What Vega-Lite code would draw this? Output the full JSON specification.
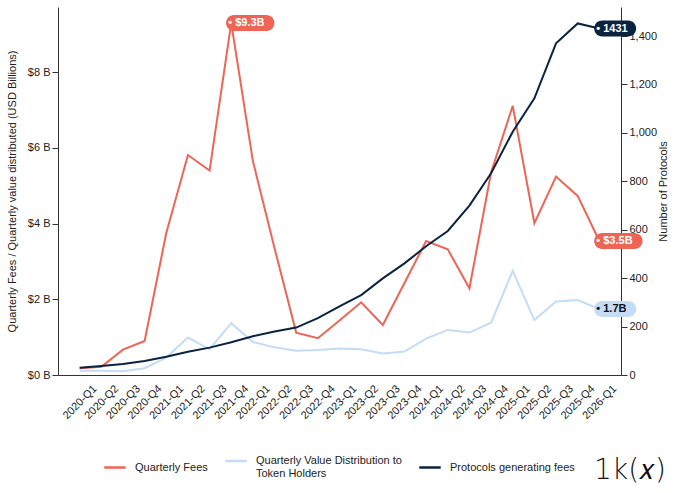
{
  "$schema": "https://vega.github.io/schema/vega-lite/v6.json",
  "width": 563,
  "height": 368,
  "autosize": {"type": "none"},
  "padding": {"left": 58, "top": 7, "right": 59, "bottom": 118},
  "background": "white",
  "title": {
    "text": "1k(𝑥)",
    "orient": "bottom",
    "anchor": "end",
    "frame": "group",
    "dx": 45,
    "offset": -22,
    "fontSize": 28,
    "fontWeight": 300,
    "font": "DejaVu Sans",
    "color": "#111"
  },
  "config": {
    "view": {"stroke": null},
    "font": "Liberation Sans",
    "axis": {
      "grid": false,
      "domainColor": "#333",
      "tickColor": "#333",
      "labelColor": "#222",
      "titleColor": "#222",
      "labelFontSize": 11,
      "titleFontSize": 11,
      "titleFontWeight": "normal"
    },
    "legend": {
      "orient": "none",
      "legendX": 45,
      "legendY": 442,
      "direction": "horizontal",
      "columns": 3,
      "columnPadding": 12,
      "labelFontSize": 11,
      "labelColor": "#222",
      "labelLimit": 300,
      "symbolType": "stroke",
      "symbolStrokeWidth": 2.5,
      "symbolSize": 460,
      "labelOffset": 8
    }
  },
  "data": {
    "values": [
      {"q": "2020-Q1", "fees": 0.18, "dist": 0.11, "protocols": 30},
      {"q": "2020-Q2", "fees": 0.22, "dist": 0.11, "protocols": 37},
      {"q": "2020-Q3", "fees": 0.67, "dist": 0.10, "protocols": 45},
      {"q": "2020-Q4", "fees": 0.90, "dist": 0.18, "protocols": 58},
      {"q": "2021-Q1", "fees": 3.75, "dist": 0.46, "protocols": 75},
      {"q": "2021-Q2", "fees": 5.81, "dist": 0.99, "protocols": 96},
      {"q": "2021-Q3", "fees": 5.40, "dist": 0.68, "protocols": 113},
      {"q": "2021-Q4", "fees": 9.30, "dist": 1.37, "protocols": 135},
      {"q": "2022-Q1", "fees": 5.65, "dist": 0.87, "protocols": 160},
      {"q": "2022-Q2", "fees": 3.35, "dist": 0.73, "protocols": 180},
      {"q": "2022-Q3", "fees": 1.12, "dist": 0.64, "protocols": 196},
      {"q": "2022-Q4", "fees": 0.97, "dist": 0.66, "protocols": 235},
      {"q": "2023-Q1", "fees": 1.44, "dist": 0.70, "protocols": 283},
      {"q": "2023-Q2", "fees": 1.92, "dist": 0.68, "protocols": 330},
      {"q": "2023-Q3", "fees": 1.32, "dist": 0.57, "protocols": 399},
      {"q": "2023-Q4", "fees": 2.43, "dist": 0.62, "protocols": 461},
      {"q": "2024-Q1", "fees": 3.54, "dist": 0.96, "protocols": 532},
      {"q": "2024-Q2", "fees": 3.32, "dist": 1.19, "protocols": 595},
      {"q": "2024-Q3", "fees": 2.29, "dist": 1.12, "protocols": 700},
      {"q": "2024-Q4", "fees": 5.35, "dist": 1.38, "protocols": 833},
      {"q": "2025-Q1", "fees": 7.11, "dist": 2.75, "protocols": 1005},
      {"q": "2025-Q2", "fees": 4.01, "dist": 1.45, "protocols": 1143},
      {"q": "2025-Q3", "fees": 5.24, "dist": 1.94, "protocols": 1370},
      {"q": "2025-Q4", "fees": 4.73, "dist": 1.98, "protocols": 1452},
      {"q": "2026-Q1", "fees": 3.54, "dist": 1.74, "protocols": 1431}
    ]
  },
  "encoding": {
    "x": {
      "field": "q",
      "type": "ordinal",
      "scale": {"type": "point", "padding": 1.15},
      "axis": {
        "title": null,
        "labelAngle": -45,
        "labelAlign": "center",
        "labelBaseline": "middle",
        "ticks": false,
        "labelPadding": 27
      }
    }
  },
  "layer": [
    {
      "transform": [{"fold": ["fees", "dist"], "as": ["series", "value"]}],
      "encoding": {
        "y": {
          "field": "value",
          "type": "quantitative",
          "scale": {"domain": [0, 9.72], "nice": false},
          "axis": {
            "title": "Quarterly Fees / Quarterly value distributed (USD Billions)",
            "values": [0, 2, 4, 6, 8],
            "labelExpr": "'$' + datum.value + ' B'",
            "tickSize": 6,
            "titlePadding": 10
          }
        }
      },
      "layer": [
        {
          "mark": {"type": "line", "strokeWidth": 2},
          "encoding": {
            "color": {
              "field": "series",
              "type": "nominal",
              "scale": {
                "domain": ["fees", "dist", "protocols"],
                "range": ["#ee6455", "#c4dcf6", "#0b2341"]
              },
              "legend": {
                "title": null,
                "labelExpr": "datum.value == 'fees' ? 'Quarterly Fees' : datum.value == 'dist' ? ['Quarterly Value Distribution to', 'Token Holders'] : 'Protocols generating fees'"
              }
            }
          }
        },
        {
          "transform": [
            {"filter": "datum.q == '2026-Q1' || (datum.q == '2021-Q4' && datum.series == 'fees')"}
          ],
          "mark": {"type": "point", "filled": true, "size": 256, "opacity": 1, "strokeWidth": 0},
          "encoding": {
            "shape": {
              "condition": {"test": "datum.series == 'dist'", "value": "M0.35,-1 L3.6,-1 C4.152,-1 4.6,-0.552 4.6,0 C4.6,0.552 4.152,1 3.6,1 L0.35,1 C-0.202,1 -0.65,0.552 -0.65,0 C-0.65,-0.552 -0.202,-1 0.35,-1 Z"},
              "value": "M0.35,-1 L4.4,-1 C4.952,-1 5.4,-0.552 5.4,0 C5.4,0.552 4.952,1 4.4,1 L0.35,1 C-0.202,1 -0.65,0.552 -0.65,0 C-0.65,-0.552 -0.202,-1 0.35,-1 Z"
            },
            "fill": {
              "condition": {"test": "datum.series == 'dist'", "value": "#c4dcf6"},
              "value": "#ee6455"
            }
          }
        },
        {
          "transform": [
            {"filter": "datum.q == '2026-Q1' || (datum.q == '2021-Q4' && datum.series == 'fees')"},
            {"calculate": "'• ' + (datum.series == 'fees' ? '$' : '') + format(datum.value, '.1f') + 'B'", "as": "label"}
          ],
          "mark": {"type": "text", "align": "left", "baseline": "middle", "dx": -3, "fontSize": 11, "fontWeight": "bold"},
          "encoding": {
            "text": {"field": "label"},
            "fill": {
              "condition": {"test": "datum.series == 'dist'", "value": "#111"},
              "value": "white"
            }
          }
        }
      ]
    },
    {
      "transform": [{"fold": ["protocols"], "as": ["series", "value"]}],
      "encoding": {
        "y": {
          "field": "value",
          "type": "quantitative",
          "scale": {"domain": [0, 1520], "nice": false},
          "axis": {
            "orient": "right",
            "title": "Number of Protocols",
            "titleAngle": 270,
            "values": [0, 200, 400, 600, 800, 1000, 1200, 1400],
            "format": ",d",
            "tickSize": 6,
            "titlePadding": 12
          }
        }
      },
      "layer": [
        {
          "mark": {"type": "line", "strokeWidth": 2},
          "encoding": {
            "color": {"field": "series", "type": "nominal"}
          }
        },
        {
          "transform": [{"filter": "datum.q == '2026-Q1'"}],
          "mark": {"type": "point", "filled": true, "size": 256, "opacity": 1, "strokeWidth": 0, "fill": "#0b2341",
            "shape": "M0.35,-1 L3.6,-1 C4.152,-1 4.6,-0.552 4.6,0 C4.6,0.552 4.152,1 3.6,1 L0.35,1 C-0.202,1 -0.65,0.552 -0.65,0 C-0.65,-0.552 -0.202,-1 0.35,-1 Z"}
        },
        {
          "transform": [
            {"filter": "datum.q == '2026-Q1'"},
            {"calculate": "'• ' + datum.value", "as": "label"}
          ],
          "mark": {"type": "text", "align": "left", "baseline": "middle", "dx": -3, "fontSize": 11, "fontWeight": "bold", "fill": "white"},
          "encoding": {"text": {"field": "label"}}
        }
      ]
    }
  ],
  "resolve": {"scale": {"y": "independent"}}
}
